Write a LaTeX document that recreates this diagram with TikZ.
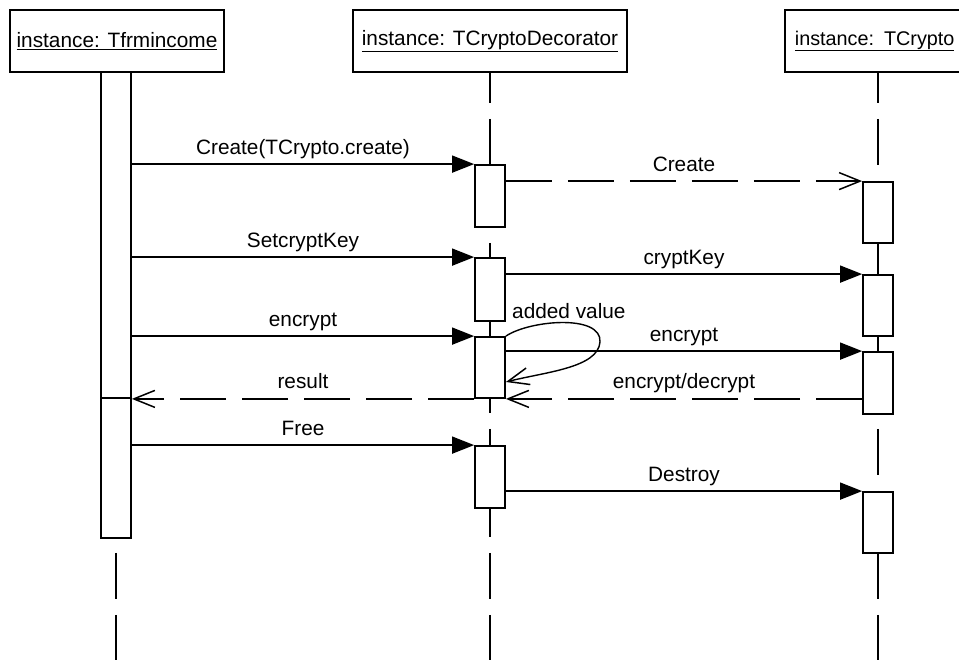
\documentclass[tikz,border=0pt]{standalone}
\usepackage{fontspec}
\setmainfont{Liberation Sans}
\usetikzlibrary{arrows.meta,calc,backgrounds}
\begin{document}
\begin{tikzpicture}[x=1pt,y=-1pt,
  every node/.style={font=\fontsize{20.8}{24}\selectfont},
  hdr/.style={draw, fill=white, line width=1.8pt, minimum height=62pt, inner sep=0pt},
  act/.style={draw, fill=white, line width=1.8pt, minimum width=30pt, inner sep=0pt},
  life/.style={line width=1.8pt, dash pattern=on 46pt off 16pt, dash phase=16pt},
  call/.style={line width=1.8pt, -{Triangle[length=22pt,width=17pt]}},
  reply/.style={line width=1.8pt, dash pattern=on 46pt off 16pt, -{Straight Barb[length=21pt,width=17pt,line width=1.5pt]}},
  selfcall/.style={line width=1.4pt, -{Straight Barb[length=21pt,width=17pt,line width=1.5pt]}},
  lbl/.style={anchor=base, yshift=10pt, inner sep=0pt}
]
\useasboundingbox (0,0) rectangle (959,660);
\clip (0,0) rectangle (959,660);

% header boxes
\node[hdr, minimum width=214pt] (h1) at (117,41) {\underline{instance: Tfrmincome}};
\node[hdr, minimum width=274pt] (h2) at (490,41) {\underline{instance: TCryptoDecorator}};
\node[hdr, anchor=west, inner xsep=10pt, text width=200pt, align=left,
  font=\fontsize{19.8}{24}\selectfont] (h3) at (784,41) {\underline{instance: TCrypto}};

% activation boxes, lifeline 1
\node[act, minimum height=326pt] (act1) at (116,235) {};
\node[act, minimum height=140pt] (act1b) at (116,468) {};
% lifeline 2
\node[act, minimum height=62pt] (a1) at (490,196) {};
\node[act, minimum height=63pt] (a2) at (490,289.5) {};
\node[act, minimum height=61pt] (a3) at (490,367.5) {};
\node[act, minimum height=62pt] (a4) at (490,477) {};
% lifeline 3
\node[act, minimum height=61pt] (b1) at (878,212.5) {};
\node[act, minimum height=61pt] (b2) at (878,305.5) {};
\node[act, minimum height=62pt] (b3) at (878,383) {};
\node[act, minimum height=61pt] (b4) at (878,522.5) {};

\begin{scope}[on background layer]
  \fill[white] (0,0) rectangle (959,660);
  \draw[life] (act1.north |- h1.south) -- (act1.north |- 0,662);
  \draw[life] (a1.north |- h2.south) -- (a1.north |- 0,662);
  \draw[life] (b1.north |- h3.south) -- (b1.north |- 0,662);
\end{scope}

% messages
\draw[call] (act1.east |- a1.north west) -- (a1.north west)
  node[lbl, midway] (m1) {Create(TCrypto.create)};
\draw[reply] (a1.east |- b1.north west) -- (b1.north west)
  node[lbl, midway] (m2) {Create};
\draw[call] (act1.east |- a2.north west) -- (a2.north west)
  node[lbl, midway] (m3) {SetcryptKey};
\draw[call] (a2.east |- b2.north west) -- (b2.north west)
  node[lbl, midway] (m4) {cryptKey};
\draw[call] (act1.east |- a3.north west) -- (a3.north west)
  node[lbl, midway] (m5) {encrypt};
\draw[call] (a3.east |- b3.north west) -- (b3.north west)
  node[lbl, midway] (m6) {encrypt};
\draw[reply] (b3.west |- a3.south east) -- (a3.south east)
  node[lbl, midway] (m7) {encrypt/decrypt};
\draw[reply] (a3.south west) -- (act1.south east)
  node[lbl, midway] (m8) {result};
\draw[call] (act1b.east |- a4.north west) -- (a4.north west)
  node[lbl, midway] (m9) {Free};
\draw[call] (a4.east |- b4.north west) -- (b4.north west)
  node[lbl, midway] (m10) {Destroy};

% self call
\coordinate (sc) at (a3.east |- 0,382);
\draw[selfcall] (a3.north east) .. controls (530,320) and (602,314) .. (600,342)
  .. controls (598,368) and (545,372) .. (sc);
\node[anchor=base west, inner sep=0pt] (sclbl) at (512,319) {added value};
\end{tikzpicture}
\end{document}
